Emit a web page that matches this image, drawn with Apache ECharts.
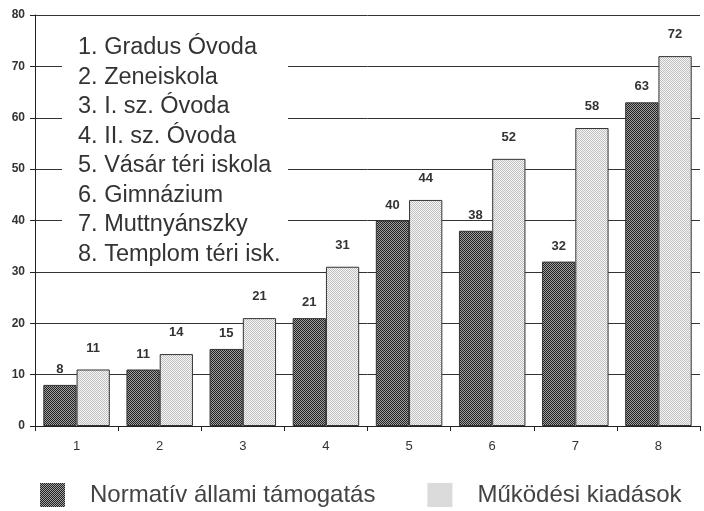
<!DOCTYPE html>
<html>
<head>
<meta charset="utf-8">
<script src="https://cdn.jsdelivr.net/npm/echarts@6/dist/echarts.min.js"></script>
<style>
html,body{margin:0;padding:0;background:#fff;}
#chart{width:704px;height:511px;}
</style>
</head>
<body>
<div id="chart"></div>
<script>
var categories = ['1','2','3','4','5','6','7','8'];
var schoolNames = ['1. Gradus Óvoda','2. Zeneiskola','3. I. sz. Óvoda','4. II. sz. Óvoda','5. Vásár téri iskola','6. Gimnázium','7. Muttnyánszky','8. Templom téri isk.'];
var seriesNames = ['Normatív állami támogatás','Működési kiadások'];
var normativ = [8, 11, 15, 21, 40, 38, 32, 63];
var mukodesi = [11, 14, 21, 31, 44, 52, 58, 72];

function makePattern(c1, c2) {
  var cv = document.createElement('canvas');
  cv.width = 2; cv.height = 2;
  var ctx = cv.getContext('2d');
  ctx.fillStyle = c2; ctx.fillRect(0,0,2,2);
  ctx.fillStyle = c1; ctx.fillRect(0,0,1,1); ctx.fillRect(1,1,1,1);
  return {image: cv, repeat: 'repeat'};
}
var darkPat = makePattern('#222222', '#a0a0a0');
var lightPat = makePattern('#c0c0c0', '#f6f6f6');

var chart = echarts.init(document.getElementById('chart'), null, {renderer:'canvas'});
var font = '"Liberation Sans", Arial, sans-serif';
chart.setOption({
  animation: false,
  backgroundColor: '#fff',
  grid: {left: 35, right: 4, top: 15, bottom: 85},
  xAxis: {
    type: 'category',
    data: categories,
    axisLine: {lineStyle: {color: '#222', width: 1}},
    axisTick: {show: true, length: 5, lineStyle: {color: '#222'}},
    axisLabel: {color: '#333', fontSize: 13, fontFamily: font, margin: 14}
  },
  yAxis: {
    type: 'value', min: 0, max: 80, interval: 10,
    axisLine: {show: true, lineStyle: {color: '#222', width: 1}},
    axisTick: {show: true, length: 5, lineStyle: {color: '#222'}},
    axisLabel: {color: '#333', fontSize: 12, fontWeight: 'bold', fontFamily: font, margin: 10},
    splitLine: {show: true, lineStyle: {color: '#333', width: 1}}
  },
  legend: {
    left: 35, top: 478,
    icon: 'rect',
    itemWidth: 25, itemHeight: 24, itemGap: 52,
    itemStyle: {borderWidth: 0},
    textStyle: {fontSize: 24, color: '#444', fontFamily: font, padding: [0,0,0,20]},
    data: seriesNames
  },
  series: [
    {
      name: seriesNames[0], type: 'bar', data: normativ,
      barGap: '0%', barCategoryGap: '20%',
      itemStyle: {color: darkPat, borderColor: '#333', borderWidth: 1},
      label: {show: true, position: 'top', distance: 9, color: '#333', fontSize: 13, fontWeight: 'bold', fontFamily: font}
    },
    {
      name: seriesNames[1], type: 'bar', data: mukodesi,
      itemStyle: {color: lightPat, borderColor: '#333', borderWidth: 1},
      label: {show: true, position: 'top', distance: 15, color: '#333', fontSize: 13, fontWeight: 'bold', fontFamily: font}
    }
  ],
  graphic: [
    {type: 'rect', z: 100, zlevel: 1, shape: {x: 62, y: 25, width: 226, height: 240}, style: {fill: '#fff'}},
    {type: 'text', z: 101, zlevel: 1, x: 78, y: 33, style: {text: schoolNames.join('\n'), fontSize: 23.5, lineHeight: 29.5, fill: '#333', fontFamily: font}}
  ]
});
</script>
</body>
</html>
